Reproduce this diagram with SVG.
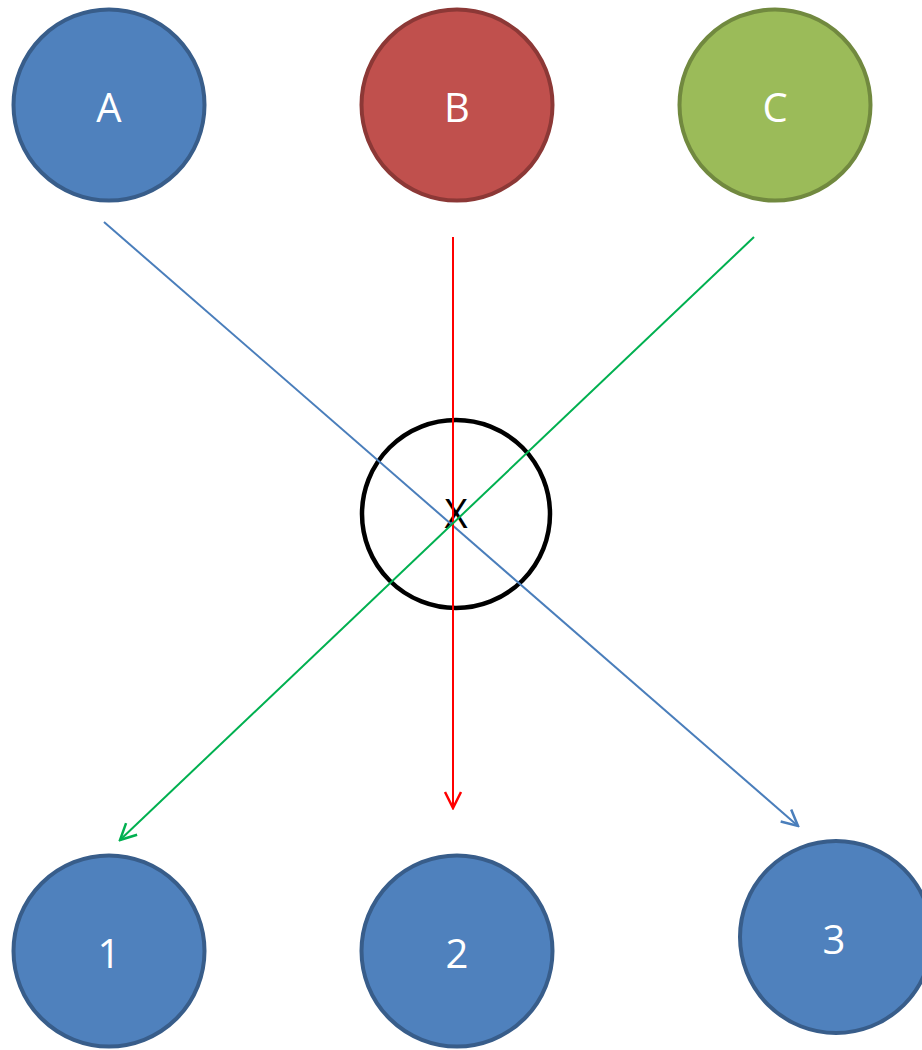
<svg xmlns="http://www.w3.org/2000/svg" width="922" height="1050" viewBox="0 0 922 1050">
<style>
.n circle{stroke-width:4}
.blue circle{fill:#4f81bd;stroke:#385d8a}
.red circle{fill:#c0504d;stroke:#8c3836}
.green circle{fill:#9bbb59;stroke:#71893f}
.x circle{fill:none;stroke:#000;stroke-width:4.5}
text{font-family:"Open Sans","Liberation Sans",sans-serif;font-size:40px;text-anchor:middle;fill:#fff}
.x text{fill:#000}
.c line{stroke-width:2;fill:none}
</style>
<defs>
<marker id="mb" viewBox="0 0 20 20" refX="18" refY="10" markerWidth="20" markerHeight="20" markerUnits="userSpaceOnUse" orient="auto"><path d="M2,2 L18,10 L2,18" fill="none" stroke="#4a7ebb" stroke-width="2.5"/></marker>
<marker id="mr" viewBox="0 0 20 20" refX="18" refY="10" markerWidth="20" markerHeight="20" markerUnits="userSpaceOnUse" orient="auto"><path d="M2,2 L18,10 L2,18" fill="none" stroke="#ff0000" stroke-width="2.5"/></marker>
<marker id="mg" viewBox="0 0 20 20" refX="18" refY="10" markerWidth="20" markerHeight="20" markerUnits="userSpaceOnUse" orient="auto"><path d="M2,2 L18,10 L2,18" fill="none" stroke="#00b050" stroke-width="2.5"/></marker>
</defs>
<g id="nA" class="n blue"><circle cx="109" cy="105" r="95.5"/><text x="109" y="122">A</text></g>
<g id="nB" class="n red"><circle cx="457" cy="105" r="95.5"/><text x="457" y="122">B</text></g>
<g id="nC" class="n green"><circle cx="775" cy="105" r="95.5"/><text x="775" y="122">C</text></g>
<g id="nX" class="n x"><circle cx="456" cy="514" r="94"/><text x="456" y="528">X</text></g>
<g id="n1" class="n blue"><circle cx="109" cy="951" r="95.5"/><text x="109" y="968">1</text></g>
<g id="n2" class="n blue"><circle cx="457" cy="951" r="95.5"/><text x="457" y="968">2</text></g>
<g id="n3" class="n blue"><circle cx="836" cy="937" r="96"/><text x="834" y="954">3</text></g>
<g id="connectors" class="c">
<line x1="104" y1="222" x2="798" y2="826" stroke="#4a7ebb" marker-end="url(#mb)"/>
<line x1="453" y1="237" x2="453" y2="808" stroke="#ff0000" marker-end="url(#mr)"/>
<line x1="754" y1="237" x2="120" y2="840" stroke="#00b050" marker-end="url(#mg)"/>
</g>
</svg>
